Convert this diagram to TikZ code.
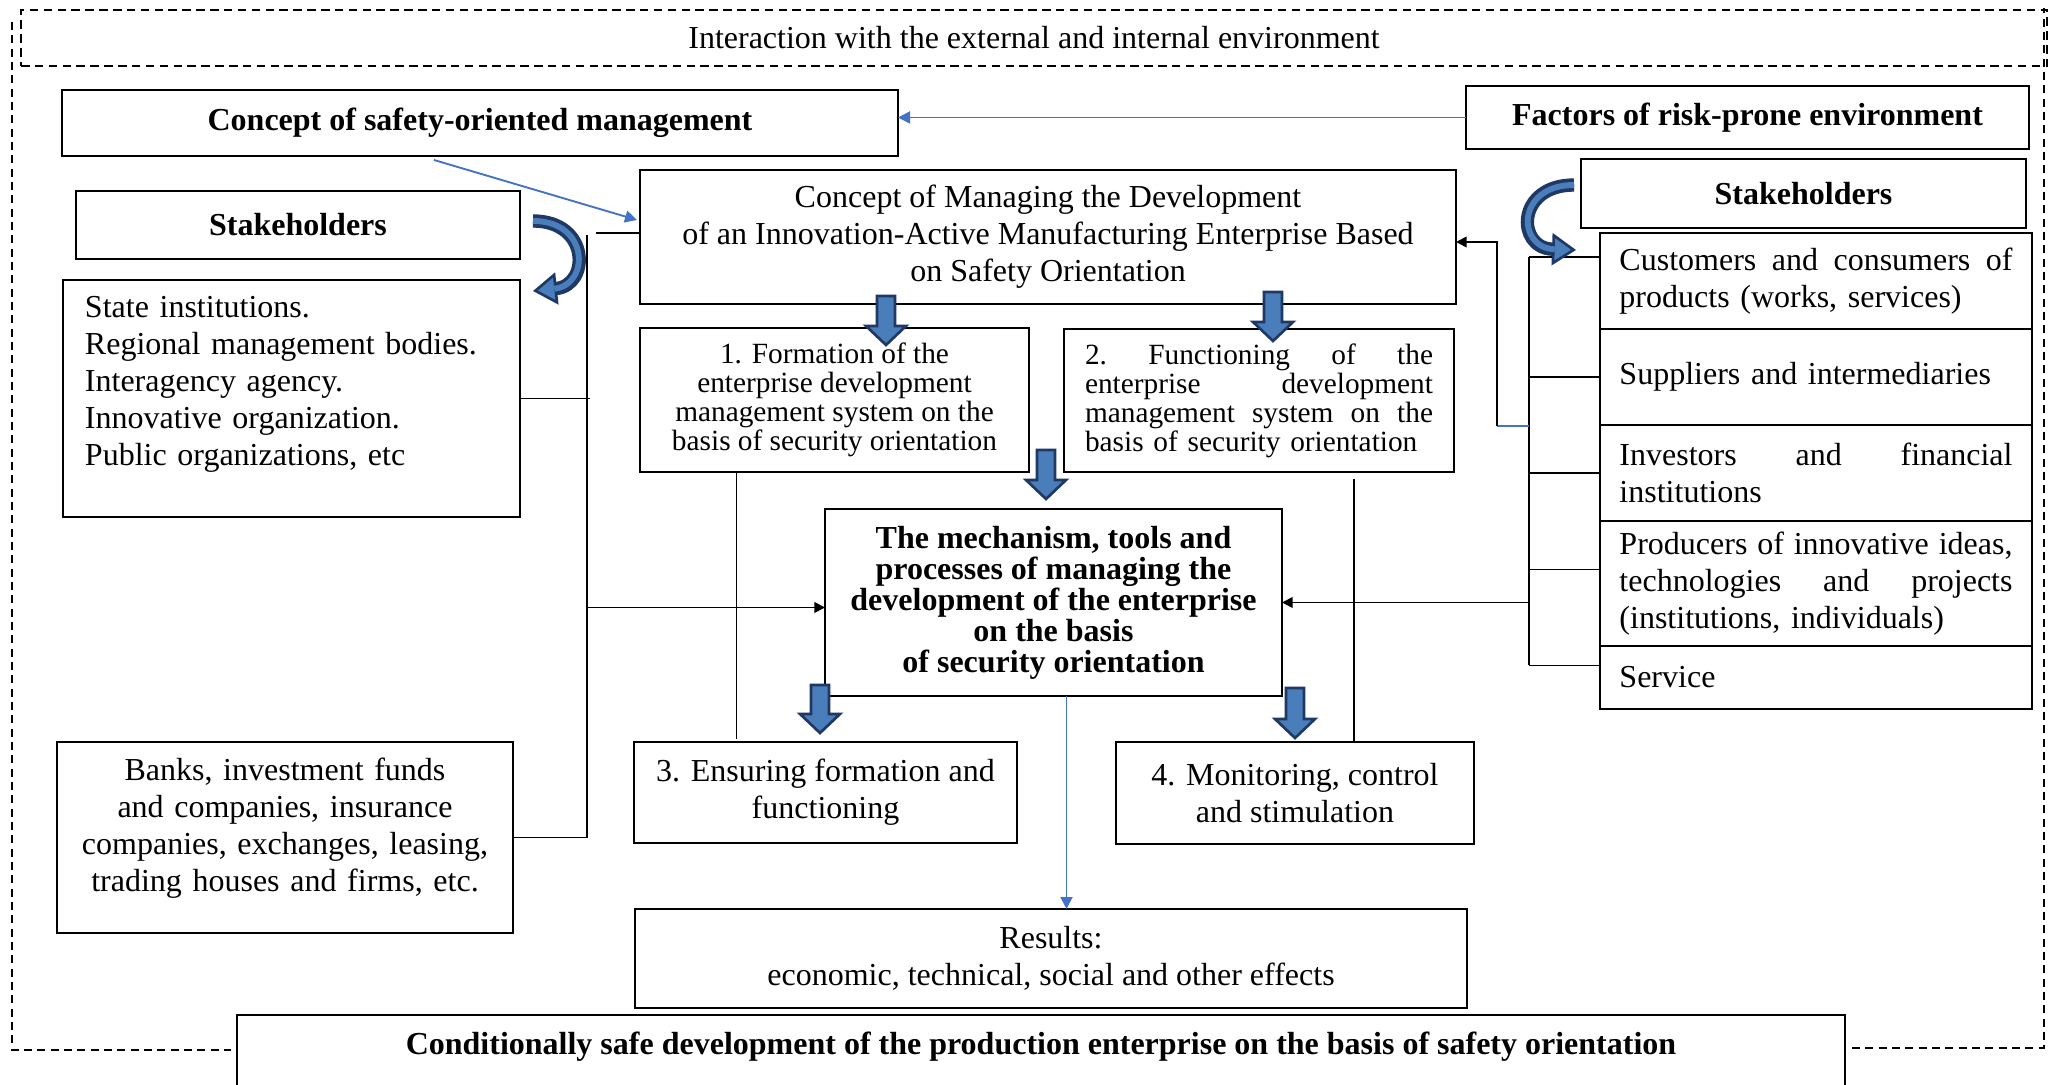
\documentclass[tikz,border=0pt]{standalone}
\usepackage{fontspec}
\setmainfont{Liberation Serif}
\usetikzlibrary{arrows.meta,calc}
\definecolor{linkblue}{HTML}{4472C4}
\definecolor{arrfill}{HTML}{4A7EBB}
\definecolor{arrline}{HTML}{1F3864}
\newcommand\txtnorm{\fontsize{12}{13.9}\selectfont}
\newcommand\txtbold{\fontsize{12}{13.9}\selectfont\bfseries}
\newcommand\txtsmall{\fontsize{11}{10.9}\selectfont}
\newcommand\txtboldtight{\fontsize{12}{11.6}\selectfont\bfseries}
% a justified line of given width, interword spaces stretched evenly
\newcommand\jline[2]{\leavevmode\hbox to #1{\spaceskip=0.25em plus 10em\relax\xspaceskip=0.25em plus 10em\relax #2}}
% thick downward block arrow: start point, total length
\newcommand\dnarrow[2]{%
  \filldraw[blockarrow] ($#1+(-9,0)$) -- ++(18,0) -- ++(0,#2-19) -- ++(11,0)
    -- ++(-20,19) -- ++(-20,-19) -- ++(11,0) -- cycle;}
\begin{document}
\begin{tikzpicture}[x=0.375pt,y=-0.375pt,
  area/.style n args={4}{at={($(#1,#2)!0.5!(#3,#4)$)},
    minimum width={(#3-#1)*0.375pt}, minimum height={(#4-#2)*0.375pt}},
  plainbox/.style={draw, line width=0.8pt, inner sep=0pt, outer sep=0pt, font=\txtnorm, align=center},
  envbox/.style={draw, line width=0.7pt, dash pattern=on 3.2pt off 2pt, inner sep=0pt, font=\txtnorm},
  outerdash/.style={line width=0.6pt, dash pattern=on 3pt off 2pt},
  link/.style={line width=0.7pt},
  blackarr/.style={line width=0.7pt, -{Triangle[length=4pt,width=4pt]}},
  bluearr/.style={line width=0.7pt, draw=linkblue, -{Triangle[length=4.5pt,width=4.5pt]}},
  blockarrow/.style={fill=arrfill, draw=arrline, line width=1pt, line join=miter},
  curvout/.style={line width=5pt, draw=arrline, line cap=butt, -{Triangle[length=9pt,width=12pt,fill=arrfill,line width=1pt]}},
  curvin/.style={line width=2.2pt, draw=arrfill, line cap=butt, shorten >=8pt},
]
\fill[white] (0,0) rectangle (2057,1085);
\useasboundingbox (0,0) rectangle (2057,1085);

% environment frame
\node[envbox, area={21}{10}{2047}{66}] (env) {Interaction with the external and internal environment};
\draw[outerdash] (12,22) -- (12,1050) -- (231,1050);
\draw[outerdash] (1852,1048) -- (2044,1048) -- (2044,8);

% top row
\node[plainbox, font=\txtbold, area={62}{90}{898}{156}] (conc) {Concept of safety-oriented management};
\node[plainbox, font=\txtbold, area={1466}{86}{2029}{149}] (risk) {Factors of risk-prone environment};
\node[plainbox, area={640}{170}{1456}{304}] (core) {Concept of Managing the Development\\of an Innovation-Active Manufacturing Enterprise Based\\on Safety Orientation};

% left stakeholders
\node[plainbox, font=\txtbold, area={76}{191}{520}{259}] (lsh) {Stakeholders};
\node[plainbox, area={63}{280}{520}{517}, align=left, text width=154.9pt, text depth=68.7pt] (state)
  {State institutions.\\Regional management bodies.\\Interagency agency.\\Innovative organization.\\Public organizations, etc};
\node[plainbox, area={57}{742}{513}{933}, text width=160pt, text depth=51pt] (banks)
  {Banks, investment funds\\and companies, insurance\\companies, exchanges, leasing,\\trading houses and firms, etc.};

% stages
\node[plainbox, font=\txtsmall, area={640}{328}{1029}{472}] (f1)
  {1. Formation of the\\enterprise development\\management system on the\\basis of security orientation};
\node[plainbox, font=\txtsmall, area={1064}{329}{1454}{472}, align=left, text width=130.5pt] (f2)
  {\jline{130.5pt}{2. Functioning of the}\\\jline{130.5pt}{enterprise development}\\\jline{130.5pt}{management system on the}\\basis of security orientation};
\node[plainbox, font=\txtboldtight, area={825}{509}{1282}{696}] (mech)
  {The mechanism, tools and\\processes of managing the\\development of the enterprise\\on the basis\\of security orientation};
\node[plainbox, area={634}{742}{1017}{843}] (f3) {3. Ensuring formation and\\functioning};
\node[plainbox, area={1116}{742}{1474}{844}] (f4) {4. Monitoring, control\\and stimulation};
\node[plainbox, area={635}{909}{1467}{1008}] (res) {Results:\\economic, technical, social and other effects};
\node[inner sep=0pt, outer sep=0pt, font=\txtbold, area={237}{1015}{1845}{1079}] (final)
  {Conditionally safe development of the production enterprise on the basis of safety orientation};
\draw[line width=0.8pt] ($(final.south west)+(0,12)$) -- (final.north west) -- (final.north east) -- ($(final.south east)+(0,12)$);

% right stakeholders
\node[plainbox, font=\txtbold, area={1581}{159}{2026}{228}] (rsh) {Stakeholders};
\node[plainbox, area={1600}{233}{2032}{329}, align=left, text width=147.4pt] (c1)
  {\jline{147.4pt}{Customers and consumers of}\\products (works, services)};
\node[plainbox, area={1600}{329}{2032}{425}, align=left, text width=147.4pt] (c2)
  {Suppliers and intermediaries};
\node[plainbox, area={1600}{425}{2032}{521}, align=left, text width=147.4pt] (c3)
  {\jline{147.4pt}{Investors and financial}\\institutions};
\node[plainbox, area={1600}{521}{2032}{646}, align=left, text width=147.4pt] (c4)
  {\jline{147.4pt}{Producers of innovative ideas,}\\\jline{147.4pt}{technologies and projects}\\(institutions, individuals)};
\node[plainbox, area={1600}{646}{2032}{709}, align=left, text width=147.4pt] (c5) {Service};

% blue links
\draw[bluearr] (risk.west) -- (risk.west -| conc.east);
\draw[bluearr] ($(conc.south)+(-46,4)$) -- ($(core.north west)+(-3,50)$);
\coordinate (v3) at ($(mech.south)+(13,0)$);
\draw[bluearr] (v3) -- (v3 |- res.north);

% left tree
\coordinate (lt) at (587,235);
\draw[link] ($(core.west)+(0,-4)$) -- ++(-44,0);
\draw[link] (lt) |- (banks.east);
\draw[link] (state.east) -- ($(state.east -| lt)+(3,0)$);
\draw[blackarr] ($(lt |- mech.west)+(0,5)$) -- ($(mech.west)+(0,5)$);

% stage lines
\coordinate (v1) at ($(f1.south)+(-98,0)$);
\draw[link] (v1) -- ($(v1 |- f3.north)+(0,-3)$);
\coordinate (v2) at ($(f2.south)+(95,7)$);
\draw[link] (v2) -- (v2 |- f4.north);

% right tree
\coordinate (rt) at (1529,257);
\draw[link] (rt) -- (rt |- 0,665);
\draw[link] (rt) -- ($(c1.west)+(0,-24)$);
\draw[link] (rt |- c2.west) -- (c2.west);
\draw[link] (rt |- c3.west) -- (c3.west);
\draw[link] ($(rt |- c4.west)+(0,-14)$) -- ($(c4.west)+(0,-14)$);
\draw[link] ($(rt |- c5.west)+(0,-12)$) -- ($(c5.west)+(0,-12)$);
\draw[blackarr] (rt |- mech.east) -- (mech.east);
\coordinate (rj) at (1497,426);
\draw[link, draw=linkblue] (rt |- rj) -- (rj);
\draw[blackarr] (rj) |- ($(core.east)+(0,5)$);

% curved stakeholder arrows
\draw[curvout] ($(lsh.east)+(13,-4)$) .. controls (590,221) and (590,285) .. ($(state.north east)+(13,11)$);
\draw[curvin]  ($(lsh.east)+(13,-4)$) .. controls (590,221) and (590,285) .. ($(state.north east)+(13,11)$);
\draw[curvout] ($(rsh.west)+(-7,-8.5)$) .. controls (1516,185) and (1516,248) .. ($(c1.north west)+(-24,17)$);
\draw[curvin]  ($(rsh.west)+(-7,-8.5)$) .. controls (1516,185) and (1516,248) .. ($(c1.north west)+(-24,17)$);

% block arrows
\dnarrow{(core.south)+(-162,-8)}{49}
\dnarrow{(core.south)+(225,-12)}{49}
\dnarrow{(mech.north)+(-7.5,-59)}{49}
\dnarrow{(mech.south)+(-233.5,-11)}{48}
\dnarrow{(mech.south)+(241.5,-8)}{50}
\end{tikzpicture}
\end{document}
